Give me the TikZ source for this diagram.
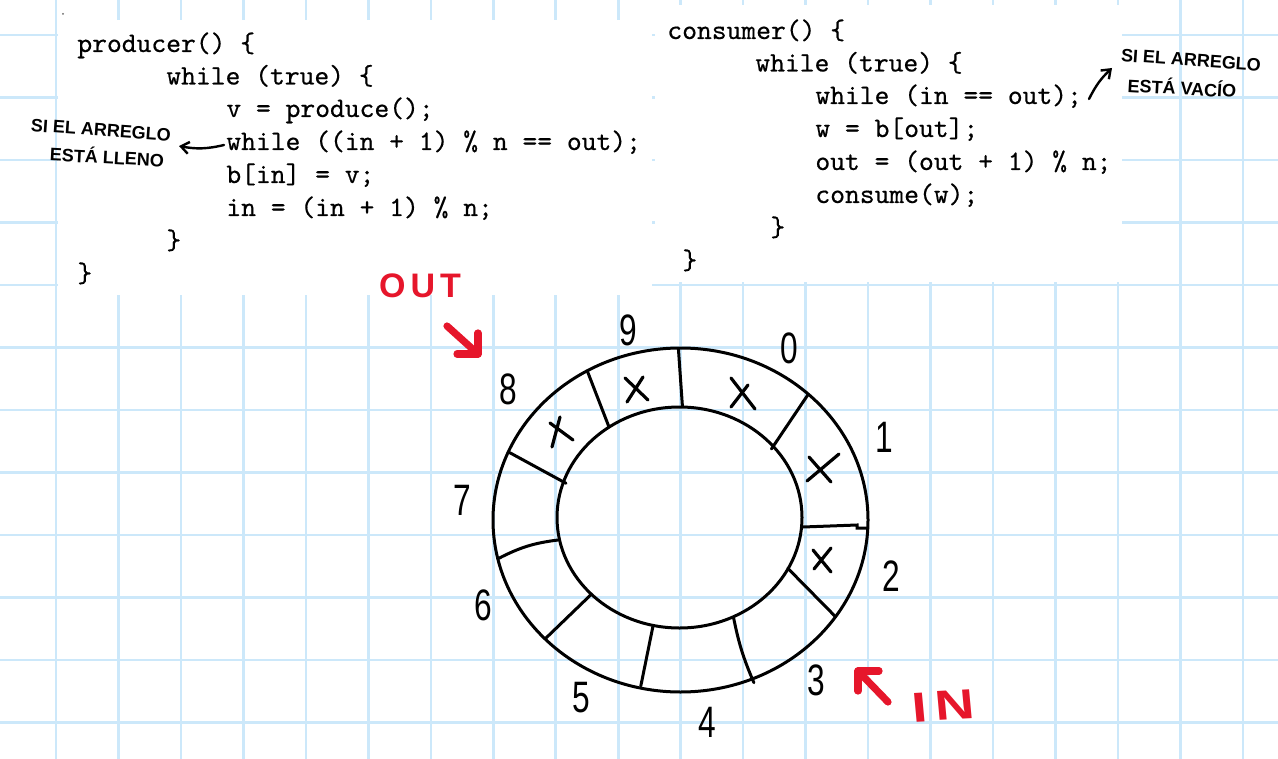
\documentclass[tikz,border=0pt]{standalone}
\usepackage{fontspec}
\usetikzlibrary{arrows.meta}
\newfontfamily\handfont{Liberation Sans}
\newfontfamily\redfont[LetterSpace=15]{Liberation Sans}
\newfontfamily\codefnt[FakeBold=0.5]{lmmono10-regular.otf}
\newcommand\mycode{\fontsize{14.1}{16}\selectfont\codefnt}
\definecolor{gridblue}{RGB}{204,232,250}
\definecolor{markred}{RGB}{230,22,43}
\tikzset{
  gridline/.style={draw=gridblue, line width=1.3pt},
  paper/.style={fill=white, draw=none},
  codeline/.style={anchor=base west, inner sep=0pt, font=\mycode},
  note/.style={inner sep=0pt, font=\handfont\bfseries\fontsize{9}{10}\selectfont},
  digit/.style={inner sep=0pt, xscale=0.72, font=\handfont\fontsize{22}{24}\selectfont},
  ring/.style={draw=black, line width=1.5pt},
  divider/.style={draw=black, line width=1.5pt, line cap=round},
  xmark/.style={draw=black, line width=1.6pt, line cap=round},
  handarrow/.style={draw=black, line width=1.2pt, line cap=round, -{Straight Barb[length=4pt,width=6pt]}},
  redline/.style={draw=markred, line width=3.6pt, line cap=round, line join=round},
  redtext/.style={inner sep=0pt, text=markred, font=\redfont\bfseries\fontsize{17}{18}\selectfont}
}
\begin{document}
\begin{tikzpicture}[x=0.5pt,y=-0.5pt]
\useasboundingbox (0,0) rectangle (1278,759);
\fill[white] (0,0) rectangle (1278,759);
% grid
\foreach \i in {0,...,19} {\draw[gridline] ({56+62.47*\i},0) -- ({56+62.47*\i},759);}
\foreach \j in {0,...,11} {\draw[gridline] (0,{35+62.5*\j}) -- (1278,{35+62.5*\j});}
% paper patches behind code
\path[paper] (58,20) rectangle (652,295);
\path[paper] (655,5) rectangle (1122,282);
\fill[black!60] (63,14) circle (0.5pt);
% producer code
\node[codeline] (p0) at (77,52) {producer() \{};
\node[codeline] (p1) at (166,84.5) {while (true) \{};
\node[codeline] (p2) at (226,117) {v = produce();};
\node[codeline] (p3) at (226,150) {while ((in + 1) \% n == out);};
\node[codeline] (p4) at (226,183) {b[in] = v;};
\node[codeline] (p5) at (226,216) {in = (in + 1) \% n;};
\node[codeline] (p6) at (166,249) {\}};
\node[codeline] (p7) at (77,282) {\}};
% consumer code
\node[codeline] (c0) at (667,39) {consumer() \{};
\node[codeline] (c1) at (755,71.5) {while (true) \{};
\node[codeline] (c2) at (815,104) {while (in == out);};
\node[codeline] (c3) at (815,137) {w = b[out];};
\node[codeline] (c4) at (815,170) {out = (out + 1) \% n;};
\node[codeline] (c5) at (815,203) {consume(w);};
\node[codeline] (c6) at (770,236) {\}};
\node[codeline] (c7) at (682,269) {\}};
% notes
\node[note, rotate=-4] (n1a) at (101,130) {SI EL ARREGLO};
\node[note, rotate=-3] (n1b) at (107,156) {ESTÁ LLENO};
\coordinate (a1s) at (224,145);
\coordinate (a1e) at (179,146);
\draw[handarrow] (a1s) to[bend left=12] (a1e);
\node[note, rotate=-4] (n2a) at (1191,60) {SI EL ARREGLO};
\node[note, rotate=-3] (n2b) at (1182,87) {ESTÁ VACÍO};
\coordinate (a2s) at (1089,99);
\coordinate (a2e) at (1112,68);
\draw[handarrow] (a2s) to[bend left=10] (a2e);
% ring
\coordinate (rc) at (680.5,520);
\coordinate (ic) at (679.5,517.5);
\draw[ring] (rc) ellipse [x radius=93.75pt, y radius=86pt];
\draw[ring] (ic) ellipse [x radius=61.25pt, y radius=55.25pt];
% dividers
\draw[divider] (678.4,348.7) -- (682.4,406);
\draw[divider] (587.3,371) -- (609,427);
\draw[divider] (509.8,452.7) -- (566,483.3);
\draw[divider] (498.8,558.3) to[bend left=10] (558,540);
\draw[divider] (545.7,638.3) -- (590.6,595);
\draw[divider] (640.8,686) -- (653,626);
\draw[divider] (753.9,682.7) to[bend left=6] (733.5,617.3);
\draw[divider] (835.5,616.7) -- (787.8,568.3);
\draw[divider] (803,527) -- (857,525) -- (857,528) -- (867,528);
\draw[divider] (808.2,394.3) -- (771.4,449);
% X marks
\draw[xmark] (625,378) -- (648,400) (643,377) -- (627,402);
\draw[xmark] (731,378) -- (755,409) (748,385) -- (731,407);
\draw[xmark] (550,423) -- (573,440) (560,417) -- (552,447);
\draw[xmark] (809,457) -- (831,482) (839,454) -- (807,481);
\draw[xmark] (813,550) -- (831,572) (831,548) -- (814,569);
% slot numbers
\node[digit] (d0) at (789,348) {0};
\node[digit] (d1) at (884,437) {1};
\node[digit] (d2) at (891,576) {2};
\node[digit] (d3) at (816,680) {3};
\node[digit] (d4) at (707,722) {4};
\node[digit] (d5) at (581,698) {5};
\node[digit] (d6) at (483,605) {6};
\node[digit] (d7) at (462,500) {7};
\node[digit] (d8) at (508,389) {8};
\node[digit] (d9) at (628,330) {9};
% OUT / IN markers
\node[redtext] (out) at (420,286) {OUT};
\coordinate (o1) at (447,326);
\coordinate (o2) at (478,354);
\draw[redline] (o1) -- (o2);
\draw[redline] (457,354) -- (o2) -- (478,333);
\node[redtext, xscale=1.3, rotate=4, font=\redfont\bfseries\fontsize{21}{22}\selectfont] (in) at (943,706) {IN};
\coordinate (i1) at (888,702);
\coordinate (i2) at (858,671);
\draw[redline] (i1) -- (i2);
\draw[redline] (858,691) -- (i2) -- (879,671);
\end{tikzpicture}
\end{document}
